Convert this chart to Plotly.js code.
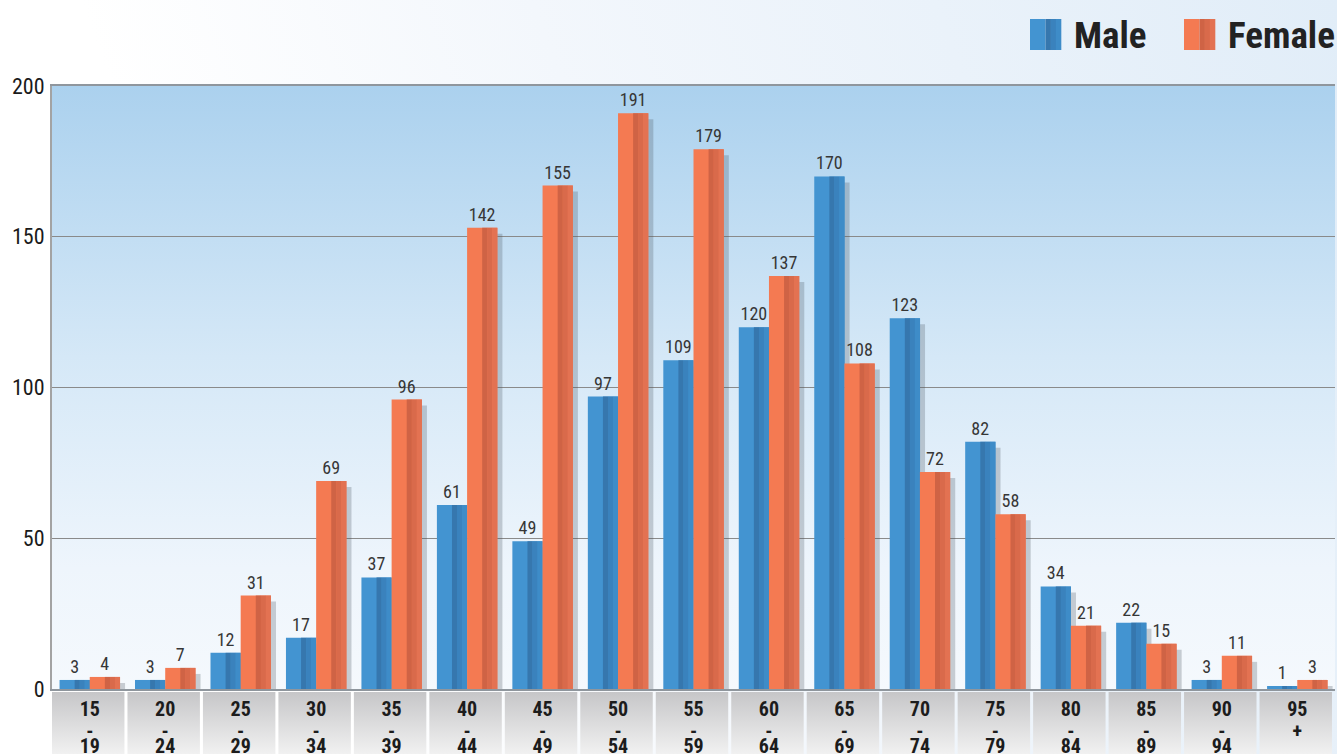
<!DOCTYPE html>
<html>
<head>
<meta charset="utf-8">
<script src="https://cdn.plot.ly/plotly-3.0.1.min.js"></script>
<style>
  html, body { margin: 0; padding: 0; }
  body { background: linear-gradient(70deg, #ffffff 0%, #ffffff 22%, #f3f7fc 50%, #e1edf8 100%); width: 1337px; height: 754px; overflow: hidden; }
  #chart { width: 1337px; height: 754px; }
  #chart text { font-stretch: condensed; }
</style>
</head>
<body>
<div id="chart"></div>
<script>
// ---- data ----
const categories = ['15-19','20-24','25-29','30-34','35-39','40-44','45-49','50-54','55-59','60-64','65-69','70-74','75-79','80-84','85-89','90-94','95+'];
const maleValues   = [3, 3, 12, 17, 37, 61, 49, 97, 109, 120, 170, 123, 82, 34, 22, 3, 1];
const femaleValues = [4, 7, 31, 69, 96, 153, 167, 191, 179, 137, 108, 72, 58, 21, 15, 11, 3];
const maleLabels   = ['3','3','12','17','37','61','49','97','109','120','170','123','82','34','22','3','1'];
const femaleLabels = ['4','7','31','69','96','142','155','191','179','137','108','72','58','21','15','11','3'];
const yTicks = [0, 50, 100, 150, 200];
const seriesNames = ['Male', 'Female'];

// ---- style ----
const NARROW = "'Roboto Condensed', Roboto, sans-serif";
const maleLight = '#4394d1', maleStrips = ['#3677ae', '#3a82bd', '#3e8cc8'];
const femLight = '#f47a52', femStrips = ['#cf6345', '#d96a4b', '#e37252'];
const shadowCol = 'rgba(80,90,100,0.28)';

const idx = categories.map((_, i) => i);
const shadowOf = v => Math.max(v - 2, 0.6);
const barCommon = { type: 'bar', x: idx, hoverinfo: 'skip' };
const labelFont = { family: NARROW, size: 18, color: '#363636', weight: 'normal' };

const traces = [];
// drop shadows
traces.push(Object.assign({}, barCommon, { y: maleValues.map(shadowOf), width: 0.4, offset: -0.4 + 0.068, marker: { color: shadowCol, line: { width: 0 } } }));
traces.push(Object.assign({}, barCommon, { y: femaleValues.map(shadowOf), width: 0.4, offset: 0.068, marker: { color: shadowCol, line: { width: 0 } } }));
// male
traces.push(Object.assign({}, barCommon, {
  name: seriesNames[0], y: maleValues, width: 0.4, offset: -0.4,
  marker: { color: maleLight, line: { width: 0 } },
  text: maleLabels, textposition: 'outside', constraintext: 'none', cliponaxis: false, textfont: labelFont
}));
maleStrips.forEach((c, k) => traces.push(Object.assign({}, barCommon, {
  y: maleValues, width: 0.2 / 3 + 0.002, offset: -0.2 + k * 0.2 / 3, marker: { color: c, line: { width: 0 } } })));
// female
traces.push(Object.assign({}, barCommon, {
  name: seriesNames[1], y: femaleValues, width: 0.4, offset: 0,
  marker: { color: femLight, line: { width: 0 } },
  text: femaleLabels, textposition: 'outside', constraintext: 'none', cliponaxis: false, textfont: labelFont
}));
femStrips.forEach((c, k) => traces.push(Object.assign({}, barCommon, {
  y: femaleValues, width: 0.2 / 3 + 0.002, offset: 0.2 + k * 0.2 / 3, marker: { color: c, line: { width: 0 } } })));

// category label boxes (bottom strip on y2)
const bx = [], by = [];
idx.forEach(i => {
  bx.push(i - 0.5, i + 0.46, i + 0.46, i - 0.5, i - 0.5, null);
  by.push(0, 0, 0.955, 0.955, 0, null);
});
traces.push({
  type: 'scatter', x: bx, y: by, xaxis: 'x', yaxis: 'y2', mode: 'lines',
  line: { width: 0, color: 'rgba(0,0,0,0)' }, fill: 'toself', fillcolor: '#dcdcdc',
  fillgradient: { type: 'vertical', colorscale: [[0, '#f1f1f1'], [1, '#c6c6c8']] },
  hoverinfo: 'skip'
});
const parts = categories.map(c => { const m = c.match(/^(\d+)([-+])(\d*)$/); return [m[1], m[2], m[3]]; });
[0.655, 0.32, 0.10].forEach((yy, k) => {
  traces.push({
    type: 'scatter', mode: 'text', x: idx, y: idx.map(() => yy), xaxis: 'x', yaxis: 'y2',
    text: parts.map(p => p[k]), textposition: 'middle center', cliponaxis: false,
    textfont: { family: NARROW, size: 20, color: '#1c1c1c', weight: 'bold' }, hoverinfo: 'skip'
  });
});

const gradSvg = "<svg xmlns='http://www.w3.org/2000/svg' width='100' height='100' preserveAspectRatio='none'>" +
  "<defs><linearGradient id='g' x1='0' y1='0' x2='0' y2='1'>" +
  "<stop offset='0' stop-color='#abd1ee'/><stop offset='0.45' stop-color='#d5e8f7'/><stop offset='0.8' stop-color='#eef5fc'/><stop offset='1' stop-color='#f5f9fd'/>" +
  "</linearGradient></defs><rect width='100' height='100' fill='url(#g)'/></svg>";

// legend (paper coords)
const W = 1337 - 52 - 2, H = 754 - 86;
const px = p => (p - 52) / W, py = p => (754 - p) / H;
const legendItems = [
  { name: seriesNames[0], light: maleLight, dark: maleStrips, sq: 1030, tx: 1072 },
  { name: seriesNames[1], light: femLight, dark: femStrips, sq: 1184, tx: 1226 }
];
const shapes = [], annotations = [];
legendItems.forEach(it => {
  shapes.push({ type: 'rect', xref: 'paper', yref: 'paper', x0: px(it.sq), x1: px(it.sq + 15.5), y0: py(50), y1: py(19), fillcolor: it.light, line: { width: 0 } });
  it.dark.forEach((c, k) => shapes.push({ type: 'rect', xref: 'paper', yref: 'paper',
    x0: px(it.sq + 15.5 + k * 5.17), x1: px(it.sq + 15.5 + (k + 1) * 5.17 + 0.3), y0: py(50), y1: py(19), fillcolor: c, line: { width: 0 } }));
  annotations.push({ xref: 'paper', yref: 'paper', x: px(it.tx), y: py(36), xanchor: 'left', yanchor: 'middle', showarrow: false,
    text: it.name, font: { family: NARROW, size: 37, color: '#222222', weight: 'bold' } });
});

const layout = {
  width: 1337, height: 754,
  margin: { l: 52, r: 2, t: 86, b: 0, pad: 0 },
  paper_bgcolor: 'rgba(0,0,0,0)', plot_bgcolor: 'rgba(0,0,0,0)',
  barmode: 'overlay', showlegend: false,
  xaxis: { range: [-0.5, 16.5], showgrid: false, zeroline: false, showticklabels: false, ticks: '',
           showline: true, mirror: true, linecolor: '#8f969d', linewidth: 2, anchor: 'y', fixedrange: true },
  yaxis: { domain: [0.0973, 1], range: [0, 200], tickvals: yTicks, ticktext: yTicks.map(String),
           showgrid: true, gridcolor: '#8a8a8a', gridwidth: 1, zeroline: false,
           showline: true, linecolor: '#a3a3a3', linewidth: 2, ticks: '', ticklabelstandoff: 1,
           tickfont: { family: NARROW, size: 22, color: '#1a1a1a' }, fixedrange: true },
  yaxis2: { domain: [0, 0.0973], range: [0, 1], visible: false, anchor: 'x', fixedrange: true },
  images: [{ source: 'data:image/svg+xml;charset=utf-8,' + encodeURIComponent(gradSvg),
             xref: 'x', yref: 'y', x: -0.5, y: 200, sizex: 17, sizey: 200,
             xanchor: 'left', yanchor: 'top', sizing: 'stretch', layer: 'below' }],
  shapes: shapes, annotations: annotations
};

Plotly.newPlot('chart', traces, layout, { displayModeBar: false, staticPlot: true });
</script>
</body>
</html>
